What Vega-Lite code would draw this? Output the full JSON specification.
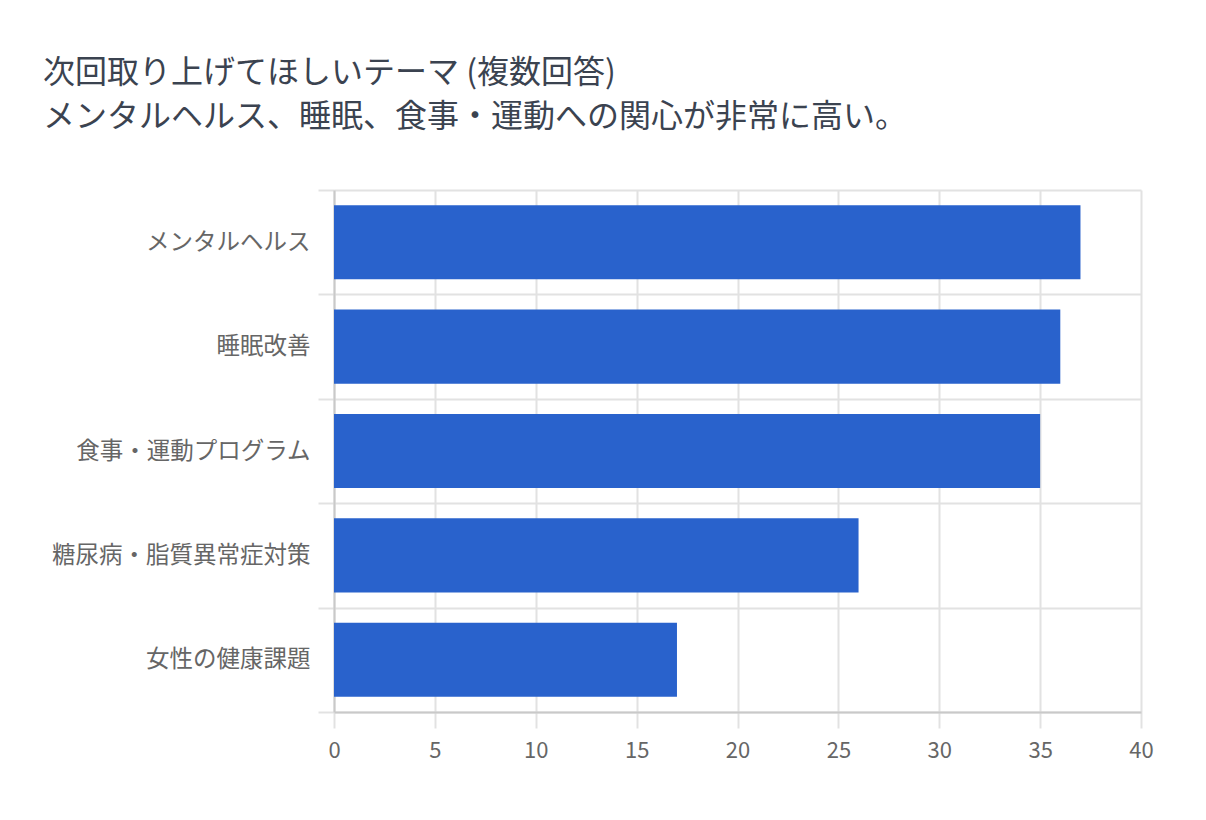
{
  "$schema": "https://vega.github.io/schema/vega-lite/v6.json",
  "autosize": "none",
  "width": 807,
  "height": 522,
  "padding": {"left": 334, "top": 190, "right": 65, "bottom": 108},
  "background": "white",
  "title": {
    "text": "次回取り上げてほしいテーマ (複数回答)",
    "subtitle": "メンタルヘルス、睡眠、食事・運動への関心が非常に高い。",
    "anchor": "start",
    "frame": "group",
    "dx": -291,
    "offset": 44,
    "font": "Noto Sans CJK JP",
    "fontSize": 32,
    "fontWeight": "normal",
    "color": "#3b4350",
    "subtitleFont": "Noto Sans CJK JP",
    "subtitleFontSize": 32,
    "subtitleColor": "#3b4350",
    "subtitlePadding": 12
  },
  "data": {
    "values": [
      {"theme": "メンタルヘルス", "count": 37},
      {"theme": "睡眠改善", "count": 36},
      {"theme": "食事・運動プログラム", "count": 35},
      {"theme": "糖尿病・脂質異常症対策", "count": 26},
      {"theme": "女性の健康課題", "count": 17}
    ]
  },
  "mark": {"type": "bar", "color": "#2962cc", "height": {"band": 0.71}},
  "encoding": {
    "y": {
      "field": "theme",
      "type": "nominal",
      "sort": null,
      "scale": {"paddingInner": 0, "paddingOuter": 0},
      "axis": {
        "title": null,
        "tickBand": "extent",
        "tickSize": 16,
        "labelPadding": 8,
        "labelFontSize": 23.5,
        "labelLimit": 0
      }
    },
    "x": {
      "field": "count",
      "type": "quantitative",
      "scale": {"domain": [0, 40], "nice": false},
      "axis": {
        "title": null,
        "values": [0, 5, 10, 15, 20, 25, 30, 35, 40],
        "tickSize": 16,
        "labelPadding": 12,
        "labelFontSize": 22,
        "labelFlush": false
      }
    }
  },
  "config": {
    "view": {"stroke": null},
    "axis": {
      "grid": true,
      "gridColor": "#e2e2e2",
      "gridWidth": 2,
      "tickColor": "#e2e2e2",
      "tickWidth": 2,
      "domainColor": "#c9c9c9",
      "domainWidth": 2,
      "labelColor": "#666666",
      "labelFont": "Noto Sans CJK JP"
    }
  }
}
